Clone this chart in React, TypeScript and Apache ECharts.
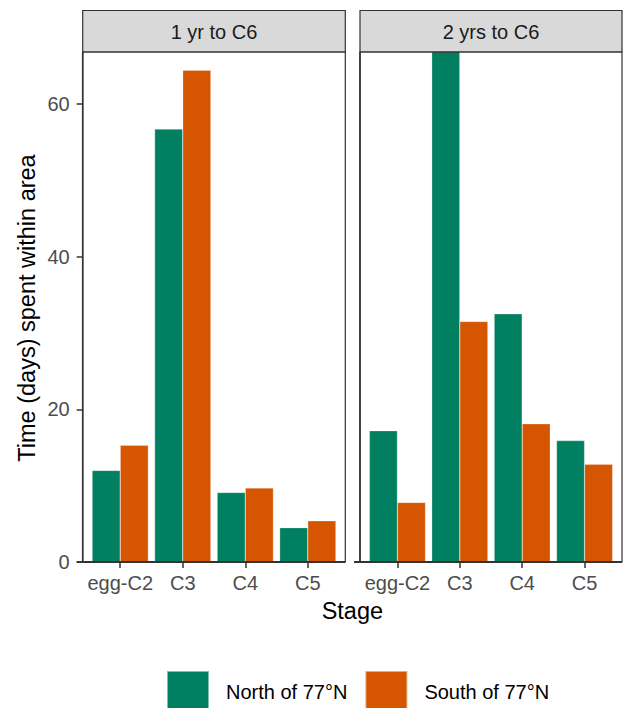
import React, { useEffect, useRef } from "react";
import * as echarts from "echarts";

const categories = ["egg-C2", "C3", "C4", "C5"];
const panelTitles = ["1 yr to C6", "2 yrs to C6"];
const seriesNames = ["North of 77°N", "South of 77°N"];
const north1yr = [12.0, 56.7, 9.1, 4.5];
const south1yr = [15.3, 64.4, 9.7, 5.4];
const north2yr = [17.2, 70.0, 32.5, 15.9];
const south2yr = [7.8, 31.5, 18.1, 12.8];
const yTicks = [0, 20, 40, 60];

const COLORS = ["#008060", "#D55500"];
const FONT = "Liberation Sans, Arial, sans-serif";
const PANEL_TOP = 52;
const PANEL_BOTTOM = 562;
const PANELS = [
  { l: 82.7, r: 345.3 },
  { l: 360, r: 622 },
];
const STRIP_TOP = 10.5;
const Y_MAX = 66.8;

export default function App() {
  const ref = useRef<HTMLDivElement>(null);
  useEffect(() => {
    if (!ref.current) return;
    const chart = echarts.init(ref.current, undefined, { renderer: "svg" });
    const units = PANELS.map((p) => (p.r - p.l) / 4.2);
    const grids = PANELS.map((p, i) => ({
      left: p.l + 0.1 * units[i],
      top: PANEL_TOP,
      width: 4 * units[i],
      height: PANEL_BOTTOM - PANEL_TOP,
    }));
    const data = [
      [north1yr, south1yr],
      [north2yr, south2yr],
    ];
    const series: any[] = [];
    data.forEach((pair, gi) => {
      pair.forEach((vals, si) => {
        series.push({
          type: "bar",
          name: seriesNames[si],
          xAxisIndex: gi,
          yAxisIndex: gi,
          data: vals,
          barWidth: 0.45 * units[gi],
          barGap: "0%",
          clip: true,
          itemStyle: {
            color: COLORS[si],
            borderColor: "rgba(255,255,255,0.5)",
            borderWidth: 0.5,
          },
        });
      });
    });

    const graphics: any[] = [];
    PANELS.forEach((p, i) => {
      graphics.push({
        type: "rect",
        shape: { x: p.l, y: STRIP_TOP, width: p.r - p.l, height: PANEL_TOP - STRIP_TOP },
        style: { fill: "#D9D9D9", stroke: "#333333", lineWidth: 1.2 },
        z: 10,
      });
      graphics.push({
        type: "text",
        x: (p.l + p.r) / 2,
        y: (STRIP_TOP + PANEL_TOP) / 2 + 1,
        style: {
          text: panelTitles[i],
          fontSize: 20,
          fontFamily: FONT,
          fill: "#1A1A1A",
          textAlign: "center",
          textVerticalAlign: "middle",
        },
        z: 11,
      });
      graphics.push({
        type: "rect",
        shape: { x: p.l, y: PANEL_TOP, width: p.r - p.l, height: PANEL_BOTTOM - PANEL_TOP },
        style: { fill: "none", stroke: "#333333", lineWidth: 1.2 },
        z: 10,
      });
      graphics.push({
        type: "line",
        shape: { x1: p.l, y1: PANEL_TOP, x2: p.l, y2: PANEL_BOTTOM },
        style: { stroke: "#333333", lineWidth: 1.6 },
        z: 10,
      });
      graphics.push({
        type: "line",
        shape: { x1: p.l - 6, y1: PANEL_BOTTOM, x2: p.r, y2: PANEL_BOTTOM },
        style: { stroke: "#333333", lineWidth: 2 },
        z: 10,
      });
    });
    graphics.push({
      type: "text",
      x: (PANELS[0].l + PANELS[1].r) / 2,
      y: 611,
      style: {
        text: "Stage",
        fontSize: 23.5,
        fontFamily: FONT,
        fill: "#000000",
        textAlign: "center",
        textVerticalAlign: "middle",
      },
    });
    graphics.push({
      type: "text",
      x: 27,
      y: 308,
      rotation: Math.PI / 2,
      style: {
        text: "Time (days) spent within area",
        fontSize: 23.5,
        fontFamily: FONT,
        fill: "#000000",
        textAlign: "center",
        textVerticalAlign: "middle",
      },
    });

    chart.setOption({
      animation: false,
      backgroundColor: "#FFFFFF",
      legend: {
        data: seriesNames,
        left: 166,
        top: 670,
        padding: 0,
        itemWidth: 42,
        itemHeight: 42,
        itemGap: 17,
        icon: "rect",
        textStyle: {
          fontSize: 20,
          fontFamily: FONT,
          color: "#000000",
          padding: [0, 0, 0, 12],
        },
      },
      grid: grids,
      xAxis: grids.map((_, i) => ({
        type: "category",
        gridIndex: i,
        data: categories,
        axisLine: { show: false },
        axisTick: {
          show: true,
          alignWithLabel: true,
          length: 6,
          lineStyle: { color: "#333333", width: 1.5 },
        },
        axisLabel: {
          fontSize: 20,
          fontFamily: FONT,
          color: "#4D4D4D",
          margin: 11,
          interval: 0,
        },
        splitLine: { show: false },
      })),
      yAxis: grids.map((_, i) => ({
        type: "value",
        gridIndex: i,
        min: 0,
        max: Y_MAX,
        interval: 20,
        offset: 0.1 * units[i],
        axisLine: { show: false },
        axisTick: {
          show: i === 0,
          length: 6,
          lineStyle: { color: "#333333", width: 1.5 },
        },
        axisLabel: {
          show: i === 0,
          fontSize: 20,
          fontFamily: FONT,
          color: "#4D4D4D",
          margin: 13,
          showMaxLabel: false,
          formatter: (v: number) => (yTicks.includes(v) ? String(v) : ""),
        },
        splitLine: { show: false },
      })),
      series,
      graphic: graphics,
    });
    return () => chart.dispose();
  }, []);
  return (
    <div
      ref={ref}
      style={{ position: "fixed", left: 0, top: 0, width: 627, height: 708 }}
    />
  );
}
